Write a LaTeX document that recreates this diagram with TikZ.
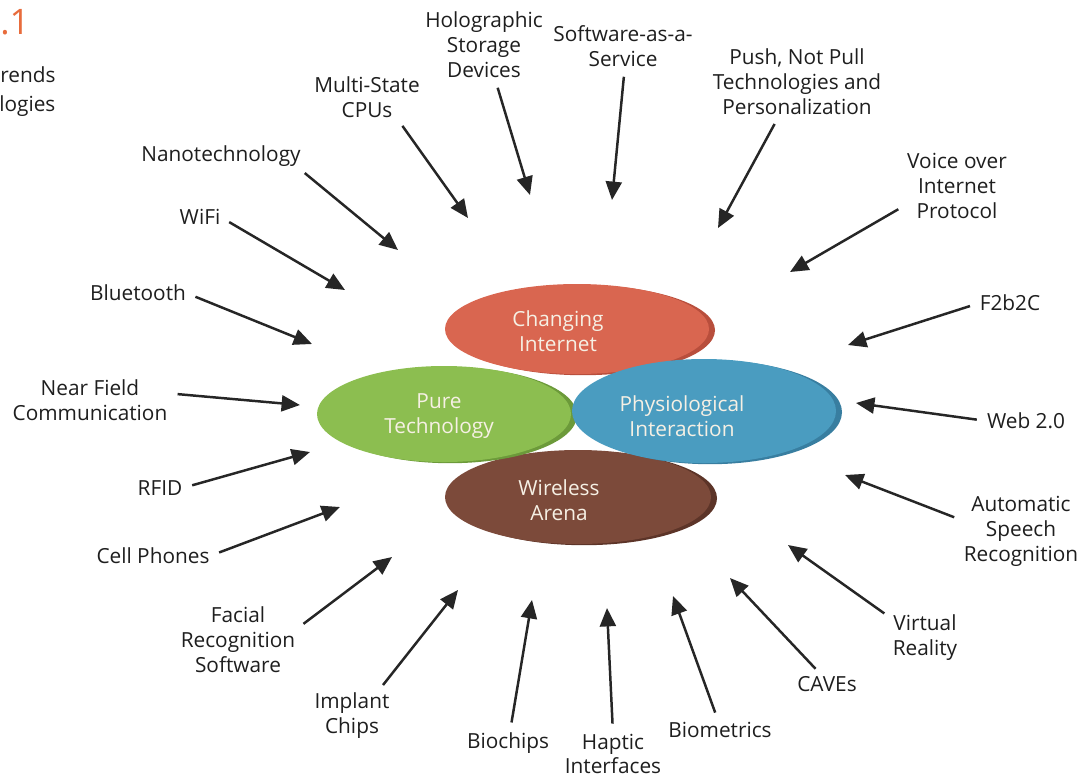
\documentclass[tikz,border=0pt]{standalone}
\usepackage{fontspec}
\setmainfont{Open Sans}
\usetikzlibrary{arrows.meta, shapes.geometric, shadows}
\definecolor{TrendInk}{RGB}{30,30,30}
\definecolor{ArrowInk}{RGB}{38,38,38}
\definecolor{AreaText}{RGB}{246,240,228}
\definecolor{FigOrange}{RGB}{232,108,60}
\definecolor{ChgFill}{RGB}{217,102,80}
\definecolor{ChgRim}{RGB}{184,78,60}
\definecolor{PureFill}{RGB}{140,190,80}
\definecolor{PureRim}{RGB}{108,154,58}
\definecolor{PhysFill}{RGB}{74,156,192}
\definecolor{PhysRim}{RGB}{56,126,160}
\definecolor{WireFill}{RGB}{124,74,58}
\definecolor{WireRim}{RGB}{92,52,40}

\begin{document}
\begin{tikzpicture}[x=0.25mm, y=-0.25mm, font=\fontsize{14.8}{17.7}\selectfont]
    \tikzset{
        trend/.style={align=center, inner sep=0pt, text=TrendInk},
        area/.style={ellipse, inner sep=0pt},
        areatext/.style={align=center, inner sep=0pt, text=AreaText},
        trendarrow/.style={line width=0.62mm, draw=ArrowInk,
            -{Triangle[length=4.6mm, width=4mm]}, shorten <=2.5mm}
    }
    \useasboundingbox (0,0) rectangle (1088,779);

    % caption remains at the left margin
    \node[anchor=west, inner sep=0pt, text=FigOrange, font=\fontsize{25}{30}\selectfont] (fignum) at (0,22) {.1};
    \node[anchor=west, inner sep=0pt, text=TrendInk] (cap1) at (0,75) {rends};
    \node[anchor=west, inner sep=0pt, text=TrendInk] (cap2) at (-1,106) {logies};

    % the four areas
    \node[area, fill=WireFill, general shadow={fill=WireRim, shadow xshift=1.5mm, shadow yshift=-0.3mm},
        minimum width=66.5mm, minimum height=23.5mm] (wire) at (578,497) {};
    \node[area, fill=PureFill, general shadow={fill=PureRim, shadow xshift=1.5mm, shadow yshift=-0.3mm},
        minimum width=63.5mm, minimum height=24mm] (pure) at (444,414) {};
    \node[area, fill=ChgFill, general shadow={fill=ChgRim, shadow xshift=1.5mm, shadow yshift=-0.3mm},
        minimum width=66mm, minimum height=22.5mm] (chg) at (577,329) {};
    \node[area, fill=PhysFill, general shadow={fill=PhysRim, shadow xshift=1.5mm, shadow yshift=-0.3mm},
        minimum width=66mm, minimum height=26mm] (phys) at (704,411) {};

    \node[areatext] (chg-txt) at (558,331) {Changing\\Internet};
    \node[areatext] (pure-txt) at (439,416) {Pure\\Technology};
    \node[areatext] (phys-txt) at (682,416) {Physiological\\Interaction};
    \node[areatext] (wire-txt) at (559,500) {Wireless\\Arena};

    % trends around the areas
    \node[trend] (holo) at (484,45) {Holographic\\Storage\\Devices};
    \node[trend] (saas) at (623,46) {Software-as-a-\\Service};
    \node[trend] (pnp) at (797,82) {Push, Not Pull\\Technologies and\\Personalization};
    \node[trend] (cpu) at (367,97) {Multi-State\\CPUs};
    \node[trend] (nano) at (221,156) {Nanotechnology};
    \node[trend] (wifi) at (200,217) {WiFi};
    \node[trend] (bt) at (138,293) {Bluetooth};
    \node[trend] (nfc) at (90,400) {Near Field\\Communication};
    \node[trend] (rfid) at (160,488) {RFID};
    \node[trend] (cell) at (153,556) {Cell Phones};
    \node[trend] (face) at (238,640) {Facial\\Recognition\\Software};
    \node[trend] (impl) at (352,716) {Implant\\Chips};
    \node[trend] (bioc) at (508,743) {Biochips};
    \node[trend] (hapt) at (613,754) {Haptic\\Interfaces};
    \node[trend] (biom) at (720,730) {Biometrics};
    \node[trend] (cave) at (827,684) {CAVEs};
    \node[trend] (vr) at (925,638) {Virtual\\Reality};
    \node[trend] (asr) at (1021,531) {Automatic\\Speech\\Recognition};
    \node[trend] (web) at (1026,421) {Web 2.0};
    \node[trend] (f2b) at (1010,303) {F2b2C};
    \node[trend] (voip) at (957,186) {Voice over\\Internet\\Protocol};

    % arrow tips
    \coordinate (holo-t) at (530,195);
    \coordinate (saas-t) at (612,200);
    \coordinate (pnp-t) at (718,228);
    \coordinate (cpu-t) at (468,218);
    \coordinate (nano-t) at (398,250);
    \coordinate (wifi-t) at (345,290);
    \coordinate (bt-t) at (312,344);
    \coordinate (nfc-t) at (300,405);
    \coordinate (rfid-t) at (310,452);
    \coordinate (cell-t) at (340,507);
    \coordinate (face-t) at (392,557);
    \coordinate (impl-t) at (458,590);
    \coordinate (bioc-t) at (532,600);
    \coordinate (hapt-t) at (607,608);
    \coordinate (biom-t) at (673,596);
    \coordinate (cave-t) at (730,578);
    \coordinate (vr-t) at (788,545);
    \coordinate (asr-t) at (845,475);
    \coordinate (web-t) at (856,403);
    \coordinate (f2b-t) at (848,345);
    \coordinate (voip-t) at (790,272);

    \draw[trendarrow] (holo.-72) -- (holo-t);
    \draw[trendarrow] (saas.-85) -- (saas-t);
    \draw[trendarrow] (pnp.-118) -- (pnp-t);
    \draw[trendarrow] (cpu.-35) -- (cpu-t);
    \draw[trendarrow] (nano.-8) -- (nano-t);
    \draw[trendarrow] (wifi.east) -- (wifi-t);
    \draw[trendarrow] (bt.east) -- (bt-t);
    \draw[trendarrow] (nfc.5) -- (nfc-t);
    \draw[trendarrow] (rfid.east) -- (rfid-t);
    \draw[trendarrow] (cell.east) -- (cell-t);
    \draw[trendarrow] (face.10) -- (face-t);
    \draw[trendarrow] (impl.43) -- (impl-t);
    \draw[trendarrow] (bioc.80) -- (bioc-t);
    \draw[trendarrow] (hapt.north) -- (hapt-t);
    \draw[trendarrow] (biom.100) -- (biom-t);
    \draw[trendarrow] (cave.120) -- (cave-t);
    \draw[trendarrow] (vr.150) -- (vr-t);
    \draw[trendarrow] (asr.170) -- (asr-t);
    \draw[trendarrow] (web.west) -- (web-t);
    \draw[trendarrow] (f2b.west) -- (f2b-t);
    \draw[trendarrow] (voip.200) -- (voip-t);
\end{tikzpicture}
\end{document}
